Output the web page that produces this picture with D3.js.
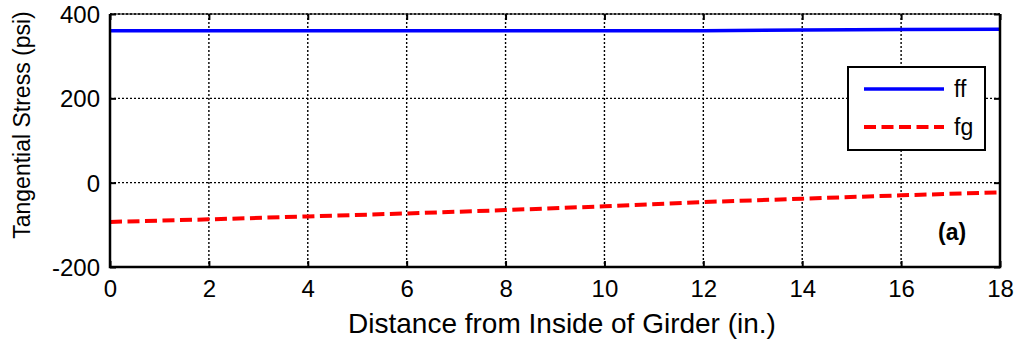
<!DOCTYPE html>
<html>
<head>
<meta charset="utf-8">
<script src="https://cdn.jsdelivr.net/npm/d3@7/dist/d3.min.js"></script>
<style>
  html, body { margin: 0; padding: 0; background: #fff; }
  svg { display: block; }
  text { font-family: "Liberation Sans", Arial, sans-serif; fill: #000; }
</style>
</head>
<body>
<svg id="chart" width="1021" height="343"></svg>
<script>
// Distance from inside of girder (in.)
const distance = [0, 2, 4, 6, 8, 10, 12, 14, 16, 18];
// Tangential stress, flange component (psi)
const ff = [360, 360, 360, 360, 360, 360, 360, 362, 363, 364];
// Tangential stress, girder component (psi)
const fg = [-93, -87, -80, -73, -65, -56, -46, -38, -30, -23];

const xTicks = [0, 2, 4, 6, 8, 10, 12, 14, 16, 18];
const yTicks = [-200, 0, 200, 400];
const seriesNames = ["ff", "fg"];
const seriesColors = ["#0000ff", "#ff0000"];

const W = 1021, H = 343;
const m = { left: 110, right: 21, top: 14, bottom: 76 };
const iw = W - m.left - m.right, ih = H - m.top - m.bottom;

const svg = d3.select("#chart");
const g = svg.append("g").attr("transform", `translate(${m.left},${m.top})`);

const x = d3.scaleLinear().domain([0, 18]).range([0, iw]);
const y = d3.scaleLinear().domain([-200, 400]).range([ih, 0]);

// dotted grid
g.append("g").selectAll("line").data(xTicks.slice(1, -1)).join("line")
  .attr("x1", d => x(d)).attr("x2", d => x(d)).attr("y1", 0).attr("y2", ih)
  .attr("stroke", "#000").attr("stroke-width", 1.4).attr("stroke-dasharray", "2,2");
g.append("g").selectAll("line").data(yTicks.slice(1, -1)).join("line")
  .attr("y1", d => y(d)).attr("y2", d => y(d)).attr("x1", 0).attr("x2", iw)
  .attr("stroke", "#000").attr("stroke-width", 1.4).attr("stroke-dasharray", "2,2");
// dotted top edge
g.append("line").attr("x1", 0).attr("x2", iw).attr("y1", 0).attr("y2", 0)
  .attr("stroke", "#000").attr("stroke-width", 1.4).attr("stroke-dasharray", "2,2");

// series
const line = d3.line().x((d, i) => x(distance[i])).y(d => y(d));
g.append("path").datum(ff).attr("d", line).attr("fill", "none")
  .attr("stroke", seriesColors[0]).attr("stroke-width", 3.5);
g.append("path").datum(fg).attr("d", line).attr("fill", "none")
  .attr("stroke", seriesColors[1]).attr("stroke-width", 4)
  .attr("stroke-dasharray", "12,5.5");

// axes with inward ticks
const fontSize = 23;
const tickFont = 24;
const fmt = d => String(d); // plain hyphen for negatives
const xAxis = g.append("g").attr("transform", `translate(0,${ih})`)
  .call(d3.axisBottom(x).tickValues(xTicks).tickFormat(fmt).tickSize(-6).tickPadding(13));
const yAxis = g.append("g")
  .call(d3.axisLeft(y).tickValues(yTicks).tickFormat(fmt).tickSize(-6).tickPadding(10));
const xTop = g.append("g")
  .call(d3.axisTop(x).tickValues(xTicks).tickSize(-6).tickFormat(""));
const yRight = g.append("g").attr("transform", `translate(${iw},0)`)
  .call(d3.axisRight(y).tickValues(yTicks).tickSize(-6).tickFormat(""));

[xAxis, yAxis, xTop, yRight].forEach(a => {
  a.select(".domain").remove();
  a.selectAll(".tick line").attr("stroke", "#000").attr("stroke-width", 2);
  a.selectAll("text").attr("font-size", tickFont)
    .attr("font-family", "'Liberation Sans', Arial, sans-serif").attr("fill", "#000");
});
xAxis.selectAll("text").attr("dy", "0.71em");
yAxis.selectAll("text").attr("dy", "0.36em");

// frame: bottom, left, right solid
g.append("path").attr("d", `M0,0V${ih}H${iw}V0`).attr("fill", "none")
  .attr("stroke", "#000").attr("stroke-width", 2.5);
g.append("line").attr("x1", 0).attr("x2", iw).attr("y1", 0).attr("y2", 0)
  .attr("stroke", "#000").attr("stroke-width", 1.2);

// legend
const lg = svg.append("g").attr("transform", "translate(848,67)");
lg.append("rect").attr("width", 137).attr("height", 83)
  .attr("fill", "#fff").attr("stroke", "#000").attr("stroke-width", 2);
seriesNames.forEach((name, i) => {
  const yy = 22 + i * 38;
  lg.append("line").attr("x1", 16).attr("x2", 96).attr("y1", yy).attr("y2", yy)
    .attr("stroke", seriesColors[i]).attr("stroke-width", i === 0 ? 3.5 : 4)
    .attr("stroke-dasharray", i === 0 ? null : "12,5.5");
  lg.append("text").attr("x", 106).attr("y", yy).attr("dy", "0.35em")
    .attr("font-size", fontSize).text(name);
});

// panel tag
svg.append("text").attr("x", 938).attr("y", 240)
  .attr("font-size", 23).attr("font-weight", "bold")
  .text("(a)");

// axis titles
svg.append("text").attr("x", 562).attr("y", 333).attr("text-anchor", "middle")
  .attr("font-size", 28).text("Distance from Inside of Girder (in.)");
svg.append("text").attr("transform", "translate(30,125) rotate(-90)")
  .attr("text-anchor", "middle").attr("font-size", fontSize)
  .text("Tangential Stress (psi)");
</script>
</body>
</html>
